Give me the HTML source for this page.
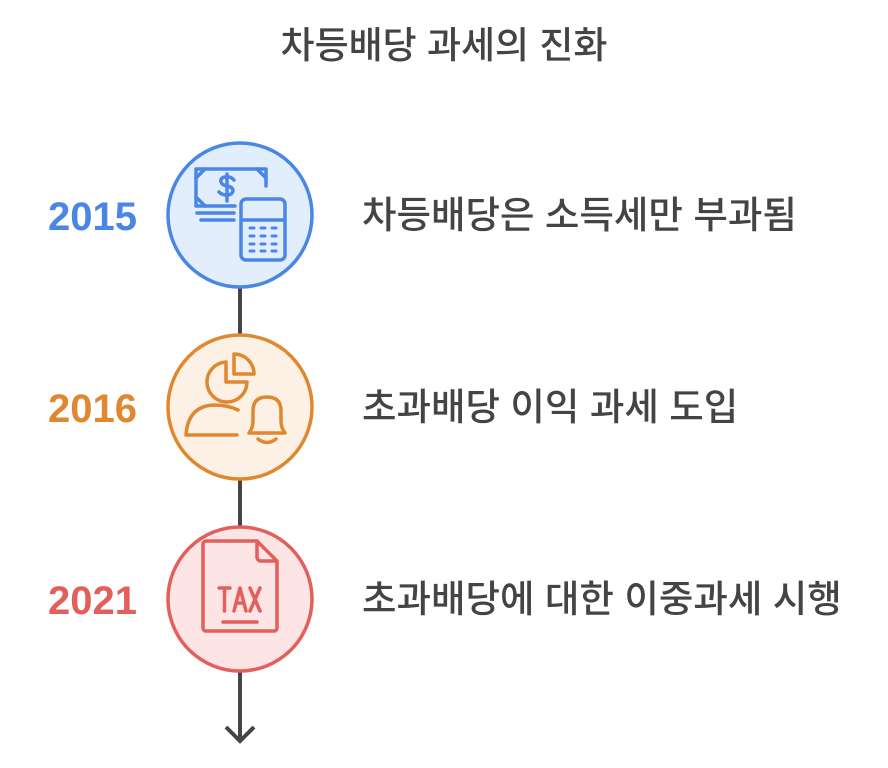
<!DOCTYPE html>
<html><head><meta charset="utf-8"><style>
body{margin:0;width:888px;height:768px;background:#fff;overflow:hidden;position:relative;font-family:"Liberation Sans","Noto Sans CJK KR",sans-serif;}
.t{position:absolute;color:#444;white-space:nowrap;line-height:1;font-weight:500;}
.y{position:absolute;font-weight:bold;font-size:40px;line-height:1;font-family:"Liberation Sans",sans-serif;}
</style></head><body>
<div class="t" style="left:0;width:888px;text-align:center;top:27px;font-size:37px;">차등배당 과세의 진화</div>
<svg width="888" height="768" style="position:absolute;left:0;top:0">
<line x1="240" y1="288" x2="240" y2="740" stroke="#454545" stroke-width="4"/>
<polyline points="226,727 240,741 254,727" fill="none" stroke="#454545" stroke-width="4"/>
<circle cx="240" cy="215" r="72" fill="#e3eefd" stroke="#4a86e3" stroke-width="3.5"/>
<circle cx="240" cy="407" r="72" fill="#fdf1e5" stroke="#df8830" stroke-width="3.5"/>
<circle cx="240" cy="599" r="72" fill="#fde5e5" stroke="#e25f5c" stroke-width="3.5"/>
<g fill="none" stroke="#4a86e3" stroke-width="3.5" stroke-linecap="round" stroke-linejoin="round">
<path d="M235,206 H196 V169 H266 V186"/>
<path d="M196,178 L205,169 M257,169 L266,178 M196,197 L205,206"/>
<path d="M234,180 q-4,-4 -9,-3 q-5,1 -4,5 q1,3 6,4 q6,1 6,5 q-1,4 -6,4 q-5,0 -8,-3 M227,174 V201"/>
<path d="M197,213 H234 M201,220 H234"/>
<rect x="241" y="199" width="44" height="61" rx="5"/>
<path d="M242,220 H284"/>
<path d="M250,228h4M261,228h4M272,228h4M250,236h4M261,236h4M272,236h4M250,244h4M261,244h4M272,244h4M250,251h4M261,251h4M272,251h4" stroke-width="3"/>
</g>
<g fill="none" stroke="#df8830" stroke-width="3.5" stroke-linecap="round" stroke-linejoin="round">
<path d="M226,362 a20,20 0 1 0 21,20 H226 Z"/>
<path d="M234,354 a20,20 0 0 1 20,20 H234 Z"/>
<path d="M238,410 q-10,-5 -24,-5 q-26,1 -28,30 H237"/>
<path d="M249,433 q4,-5 4,-12 v-10 q0,-14 14,-14 q14,0 14,14 v10 q0,7 4,12 Z"/>
<path d="M258,439 q9,7 18,0"/>
</g>
<g fill="none" stroke="#e25f5c" stroke-width="3.5" stroke-linecap="round" stroke-linejoin="round">
<path d="M257,541 H206 a3,3 0 0 0 -3,3 V628 a3,3 0 0 0 3,3 H274 a3,3 0 0 0 3,-3 V561 Z"/>
<path d="M257,541 V557 a4,4 0 0 0 4,4 H277"/>
<path d="M219,588 h11 M224.5,588 v23 M234,611 l6,-23 l6,23 M236,603 h8 M250,588 l10,23 M260,588 l-10,23"/>
<path d="M223,622 H257"/>
</g>
</svg>
<div class="y" style="left:48px;top:197px;color:#4a86e3">2015</div>
<div class="y" style="left:48px;top:389px;color:#df8830">2016</div>
<div class="y" style="left:48px;top:581px;color:#e25f5c">2021</div>
<div class="t" style="left:362px;top:197px;font-size:37.5px;">차등배당은 소득세만 부과됨</div>
<div class="t" style="left:362px;top:389px;font-size:37.5px;">초과배당 이익 과세 도입</div>
<div class="t" style="left:362px;top:581px;font-size:37.5px;">초과배당에 대한 이중과세 시행</div>
</body></html>
